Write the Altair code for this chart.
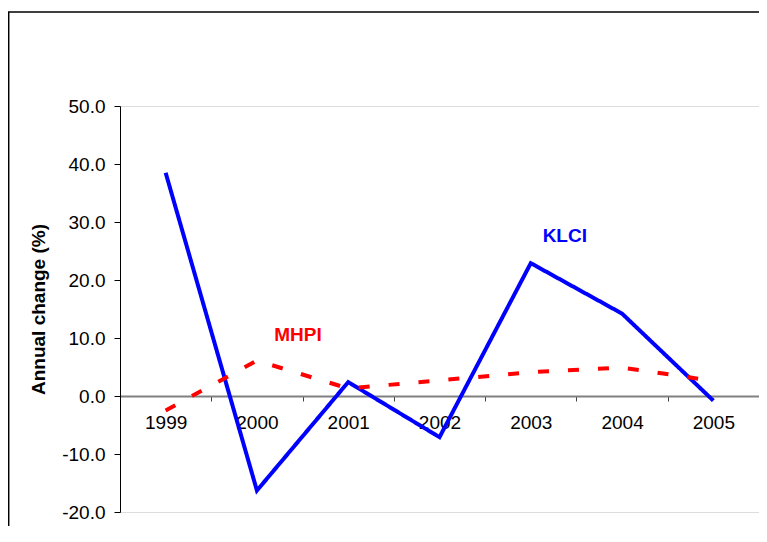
import altair as alt
import pandas as pd

# annual change (%)
years = ["1999", "2000", "2001", "2002", "2003", "2004", "2005"]
klci = [38.5, -16.3, 2.4, -7.1, 22.9, 14.2, -0.8]
mhpi = [-2.5, 6.1, 1.3, 2.7, 4.1, 4.9, 2.6]

series_names = ["KLCI", "MHPI"]
series_colors = ["#0000FF", "#FF0000"]

# in-chart series labels
label_text = ["KLCI", "MHPI"]
label_year = ["2003", "2000"]
label_value = [27.6, 10.5]

y_ticks = [-20, -10, 0, 10, 20, 30, 40, 50]

FONT = "Liberation Sans"
W, H = 639, 406
BOTTOM = 14

df = pd.DataFrame({
    "year": years * 2,
    "change": klci + mhpi,
    "series": ["KLCI"] * len(years) + ["MHPI"] * len(years),
})

x_scale = alt.Scale(type="band", domain=years, paddingInner=0, paddingOuter=0)
y_scale = alt.Scale(domain=[-20, 50], nice=False, zero=False)

# plain hyphen for negatives, as in the original
ylabel = "(datum.value < 0 ? '-' : '') + format(abs(datum.value), '.1f')"

lines = alt.Chart(df).mark_line(strokeWidth=4, strokeCap="butt").encode(
    x=alt.X("year:N", scale=x_scale, sort=years,
            axis=alt.Axis(title=None, orient="bottom", offset=-116, labelAngle=0,
                          tickBand="extent", domainColor="#808080", domainWidth=2,
                          tickColor="#404040", tickSize=5, labelFontSize=19,
                          labelPadding=12, labelColor="black", labelFont=FONT)),
    y=alt.Y("change:Q", scale=y_scale,
            axis=alt.Axis(title="Annual change (%)", values=y_ticks, labelExpr=ylabel,
                          grid=False, domainColor="black", tickColor="black",
                          tickSize=6, labelPadding=9, labelFontSize=19,
                          labelColor="black", labelFont=FONT,
                          titleFont=FONT, titleFontSize=19, titleFontWeight="bold",
                          titleColor="black", titleAngle=270, titleX=-81.5,
                          titleY=H / 2, titleBaseline="middle", titleAlign="center")),
    color=alt.Color("series:N", scale=alt.Scale(domain=series_names, range=series_colors),
                    legend=None),
    strokeDash=alt.StrokeDash("series:N",
                              scale=alt.Scale(domain=series_names, range=[[1, 0], [11, 19]]),
                              legend=None),
)

labels = []
offsets = {"KLCI": 34, "MHPI": 41}
for name, yr, val, col in zip(label_text, label_year, label_value, series_colors):
    ldf = pd.DataFrame({"year": [yr], "change": [val], "txt": [name]})
    labels.append(
        alt.Chart(ldf).mark_text(font=FONT, fontSize=19, fontWeight="bold", color=col,
                                 dx=offsets[name], baseline="middle", align="center")
        .encode(x=alt.X("year:N", scale=x_scale, sort=years),
                y=alt.Y("change:Q", scale=y_scale), text="txt:N")
    )

# outer frame of the picture; its right and bottom edges fall off the page
blank = alt.Data(values=[{"a": 0}])
frame = alt.Chart(blank).mark_rect(fill=None, stroke="black", strokeWidth=1.5).encode(
    x=alt.value(-111.3), x2=alt.value(W + 60), y=alt.value(-94), y2=alt.value(H + 80))

chart = alt.layer(frame, lines, *labels).properties(
    width=W, height=H,
    autosize=alt.AutoSizeParams(type="none"),
    padding={"left": 112, "top": 98, "right": 0, "bottom": BOTTOM},
).configure_view(stroke=None).configure(background="white")

chart.save("out.html", embed_options={"renderer": "svg", "actions": False})
